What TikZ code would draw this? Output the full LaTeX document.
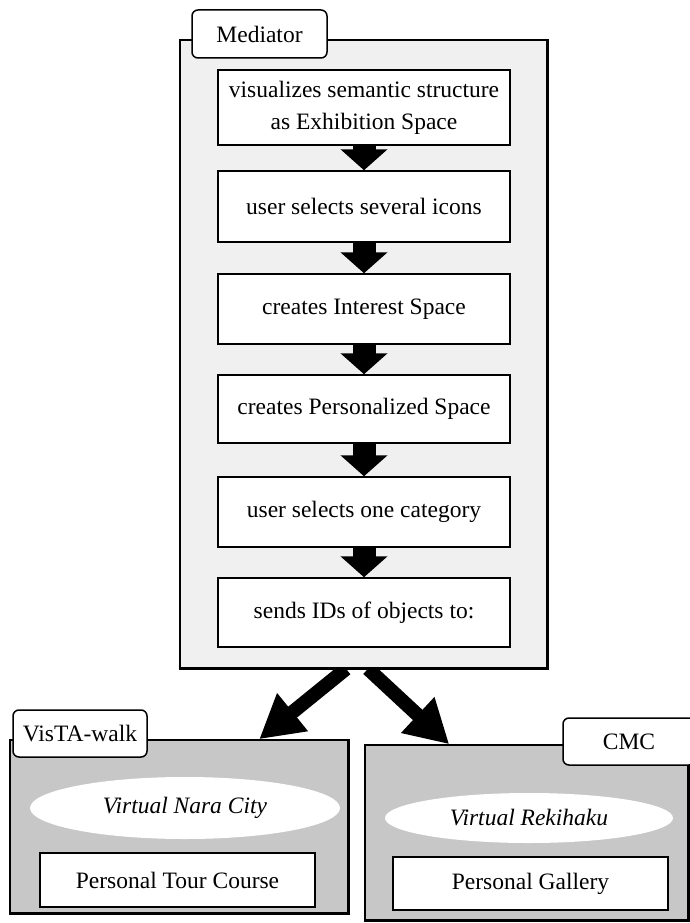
\documentclass[tikz,border=0pt]{standalone}
\usepackage{fontspec}
\setmainfont{Liberation Serif}
\usetikzlibrary{arrows.meta,calc,shapes.geometric}
\pgfdeclarelayer{bg}
\pgfsetlayers{bg,main}
\begin{document}
\begin{tikzpicture}[x=1pt,y=-1pt,
  txt/.style={font=\fontsize{23.5}{32}\selectfont},
  outerbox/.style={draw, line width=1.6pt, inner sep=0pt, rectangle},
  medfill/.style={fill=black!6},
  subfill/.style={fill=black!22},
  tabbox/.style={draw, fill=white, line width=1.5pt, rounded corners=6pt, inner sep=0pt, txt},
  stepbox/.style={draw, fill=white, line width=1.5pt, inner sep=0pt, minimum width=292pt, align=center, txt},
  leafbox/.style={draw, fill=white, line width=1.5pt, inner sep=0pt, txt},
  cloud/.style={ellipse, fill=white, inner sep=0pt, txt},
  flowarrow/.style={line width=23pt, -{Triangle[length=21pt,width=46pt]}},
  splitarrow/.style={line width=14pt, -{Triangle[length=43pt,width=46pt]}},
  heavyedge/.style={line width=3pt}
]
\useasboundingbox (0,0) rectangle (690,923);

% Mediator container
\node[outerbox, medfill, minimum width=367pt, minimum height=628pt] (med) at (363.5,354) {};
\draw[heavyedge] (med.north east) -- (med.south east) -- (med.south west);
\node[tabbox, minimum width=135pt, minimum height=48pt] (medtab) at (259.5,34) {Mediator};

% steps
\node[stepbox, minimum height=75pt] (b1) at (364,107.5) {\raisebox{-2pt}{visualizes semantic structure}\\\raisebox{-2pt}{as Exhibition Space}};
\node[stepbox, minimum height=71pt] (b2) at (364,206.5) {user selects several icons};
\node[stepbox, minimum height=70pt] (b3) at (364,309) {creates Interest Space};
\node[stepbox, minimum height=68pt] (b4) at (364,409) {creates Personalized Space};
\node[stepbox, minimum height=70pt] (b5) at (364,512) {user selects one category};
\node[stepbox, minimum height=69pt] (b6) at (364,612.5) {sends IDs of objects to:};

\draw[flowarrow] (b1.south) -- (b2.north);
\draw[flowarrow] (b2.south) -- (b3.north);
\draw[flowarrow] (b3.south) -- (b4.north);
\draw[flowarrow] (b4.south) -- (b5.north);
\draw[flowarrow] (b5.south) -- (b6.north);

% VisTA-walk
\node[outerbox, subfill, minimum width=338pt, minimum height=173pt] (vista) at (179,826.5) {};
\draw[heavyedge] (vista.north east) -- (vista.south east) -- (vista.south west);
\node[cloud, minimum width=310pt, minimum height=62pt] (nara) at (185,808) {\itshape Virtual Nara City};
\node[leafbox, minimum width=275pt, minimum height=54pt] (tour) at (177.5,880) {Personal Tour Course};
\node[tabbox, minimum width=134pt, minimum height=47pt] (vistatab) at (80,733.5) {VisTA-walk};

% CMC
\node[outerbox, subfill, minimum width=323pt, minimum height=175pt] (cmc) at (526.5,832.5) {};
\draw[heavyedge] (cmc.north east) -- (cmc.south east) -- (cmc.south west);
\node[cloud, minimum width=288pt, minimum height=50pt] (reki) at (529,818) {\itshape Virtual Rekihaku};
\node[leafbox, minimum width=275pt, minimum height=53pt] (gallery) at (530.5,883.5) {Personal Gallery};
\node[tabbox, minimum width=132pt, minimum height=47pt] (cmctab) at (629,741.5) {CMC};

% split arrows
\begin{pgfonlayer}{bg}
\draw[splitarrow] ($(med.south)+(-17.5,0)$) -- ($(vista.north west)+(250,0)$);
\draw[splitarrow] ($(med.south)+(4.5,0)$) -- ($(cmc.north west)+(85,0)$);
\end{pgfonlayer}
\end{tikzpicture}
\end{document}
